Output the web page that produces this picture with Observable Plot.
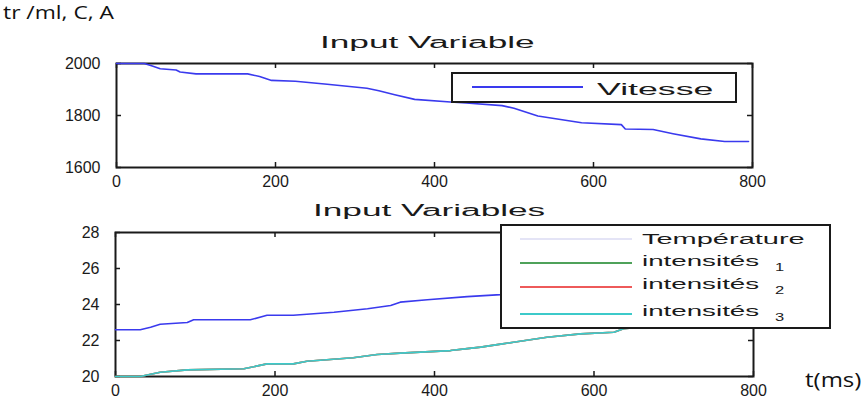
<!DOCTYPE html>
<html><head><meta charset="utf-8">
<script src="https://cdn.jsdelivr.net/npm/d3@7"></script>
<script src="https://cdn.jsdelivr.net/npm/@observablehq/plot@0.6"></script>
<style>
body{margin:0;background:#fff}
#wrap{position:relative;width:866px;height:411px;overflow:hidden;background:#fff}
#wrap svg{position:absolute;left:0}
.abs{position:absolute;white-space:nowrap;line-height:1}
.mat{font-family:"Liberation Sans",Arial,sans-serif;color:#1a1a1a}
.cal{font-family:"Open Sans",sans-serif;color:#111}
.legend{position:absolute;border:2px solid #1a1a1a;background:#fff;box-sizing:border-box}
.lline{position:absolute;height:2px}
</style></head><body><div id="wrap"></div>
<script>
// ---------- data ----------
const vitesseT = [0,35,45,55,75,80,100,165,180,195,225,265,315,330,350,375,420,440,485,500,530,585,635,640,675,700,735,765,795];
const vitesseV = [2000,2000,1990,1980,1975,1967,1960,1960,1950,1935,1932,1920,1905,1895,1880,1862,1852,1848,1838,1828,1798,1772,1765,1748,1746,1730,1710,1700,1700];

const tempT = [0,31,44,56,90,98,169,190,223,274,316,345,357,391,441,483,520,600,700,800];
const tempV = [22.6,22.6,22.74,22.9,23.0,23.15,23.15,23.4,23.4,23.57,23.76,23.94,24.13,24.26,24.44,24.55,24.7,25.0,25.4,25.7];

const intensT = [0,31,56,90,161,190,223,240,298,328,357,420,441,458,483,499,541,583,625,637,700,800];
const intens1 = [20.0,20.0,20.24,20.37,20.43,20.7,20.7,20.85,21.04,21.22,21.3,21.44,21.55,21.63,21.8,21.9,22.18,22.37,22.46,22.65,22.9,23.2];
const intens2 = [20.0,20.0,20.24,20.37,20.43,20.7,20.7,20.85,21.04,21.22,21.3,21.44,21.55,21.63,21.8,21.9,22.18,22.37,22.46,22.65,22.9,23.2];
const intens3 = [20.0,20.0,20.24,20.37,20.43,20.7,20.7,20.85,21.04,21.22,21.3,21.44,21.55,21.63,21.8,21.9,22.18,22.37,22.46,22.65,22.9,23.2];

const xTicks = [0,200,400,600,800];
const yTicks1 = [1600,1800,2000];
const yTicks2 = [20,22,24,26,28];

const title1 = "Input Variable";
const title2 = "Input Variables";
const legend1Labels = ["Vitesse"];
const legend2Labels = ["Température","intensités","intensités","intensités"];
const legend2Subs = ["","1","2","3"];
const yLabelText = "tr /ml, C, A";
const xLabelText = "t(ms)";

const BLUE = "#3a3aee", GREEN = "#4fa25a", RED = "#ee5a5a", CYAN = "#3ccaca", PALE = "#e4e4f6";
const INK = "#1a1a1a";

// ---------- build ----------
const wrap = document.getElementById("wrap");
const W = 866;
const rows1 = vitesseT.map((t,i)=>({t, v: vitesseV[i]}));
const rowsTemp = tempT.map((t,i)=>({t, v: tempV[i]}));
const rowsI1 = intensT.map((t,i)=>({t, v: intens1[i]}));
const rowsI2 = intensT.map((t,i)=>({t, v: intens2[i]}));
const rowsI3 = intensT.map((t,i)=>({t, v: intens3[i]}));

function frameMarks(innerW, innerH, yTicks) {
  return [
    Plot.frame({stroke: INK, strokeWidth: 2}),
    Plot.tickX(xTicks, {x: d=>d, insetTop: innerH-5, stroke: INK, strokeWidth: 1.5}),
    Plot.tickX(xTicks, {x: d=>d, insetBottom: innerH-5, stroke: INK, strokeWidth: 1.5}),
    Plot.tickY(yTicks, {y: d=>d, insetRight: innerW-5, stroke: INK, strokeWidth: 1.5}),
    Plot.tickY(yTicks, {y: d=>d, insetLeft: innerW-5, stroke: INK, strokeWidth: 1.5}),
    Plot.axisX({ticks: xTicks, tickSize: 0, tickPadding: 8, tickFormat: d=>String(d), label: null}),
    Plot.axisY({ticks: yTicks, tickSize: 0, tickPadding: 16, tickFormat: d=>String(d), label: null})
  ];
}

const style = {fontFamily: '"Liberation Sans", Arial, sans-serif', fontSize: "16px", color: INK, background: "transparent", overflow: "visible"};

// top panel
const H1 = 195, mt1 = 63, mb1 = 28, ml1 = 116, mr1 = 114;
const p1 = Plot.plot({
  width: W, height: H1, marginTop: mt1, marginBottom: mb1, marginLeft: ml1, marginRight: mr1,
  x: {domain: [0,800]}, y: {domain: [1600,2000]}, style,
  marks: [
    ...frameMarks(W-ml1-mr1, H1-mt1-mb1, yTicks1),
    Plot.line(rows1, {x: "t", y: "v", stroke: BLUE, strokeWidth: 1.6})
  ]
});
p1.style.top = "0px";
wrap.appendChild(p1);

// bottom panel
const top2 = 195, H2 = 216, mt2 = 37, mb2 = 35, ml2 = 115, mr2 = 113;
const p2 = Plot.plot({
  width: W, height: H2, marginTop: mt2, marginBottom: mb2, marginLeft: ml2, marginRight: mr2,
  x: {domain: [0,800]}, y: {domain: [20,28]}, style,
  marks: [
    ...frameMarks(W-ml2-mr2, H2-mt2-mb2, yTicks2),
    Plot.line(rowsTemp, {x: "t", y: "v", stroke: BLUE, strokeWidth: 1.6}),
    Plot.line(rowsI1, {x: "t", y: "v", stroke: GREEN, strokeWidth: 1.6}),
    Plot.line(rowsI2, {x: "t", y: "v", stroke: RED, strokeWidth: 1.6}),
    Plot.line(rowsI3, {x: "t", y: "v", stroke: CYAN, strokeWidth: 1.6})
  ]
});
p2.style.top = top2 + "px";
wrap.appendChild(p2);

// helpers for html text
function addText(txt, cls, fs, left, baseline, scale, parent, ascentFrac) {
  const d = document.createElement("div");
  d.className = "abs " + cls;
  d.textContent = txt;
  d.style.fontSize = fs + "px";
  d.style.left = left + "px";
  d.style.top = (baseline - ascentFrac * fs) + "px";
  d.style.transformOrigin = "0 0";
  d.style.transform = `scaleX(${scale})`;
  (parent || wrap).appendChild(d);
  return d;
}
const LIB = 0.8465, OPEN = 0.888;

// titles
addText(title1, "mat", 16, 320, 49, 2.2, null, LIB);
addText(title2, "mat", 16, 313, 217, 2.2, null, LIB);

// top legend
const lg1 = document.createElement("div");
lg1.className = "legend";
Object.assign(lg1.style, {left: "451px", top: "72px", width: "286px", height: "31px"});
wrap.appendChild(lg1);
const l1 = document.createElement("div");
l1.className = "lline";
Object.assign(l1.style, {left: "19px", top: "12px", width: "111px", background: BLUE});
lg1.appendChild(l1);
addText(legend1Labels[0], "mat", 17, 144, 21, 2.1, lg1, LIB);

// bottom legend
const lg2 = document.createElement("div");
lg2.className = "legend";
Object.assign(lg2.style, {left: "500px", top: "224px", width: "331px", height: "105px"});
wrap.appendChild(lg2);
const lineYs = [12, 36, 60, 87];
const baseYs = [18, 40, 63, 90];
const cols = [PALE, GREEN, RED, CYAN];
legend2Labels.forEach((lab, i) => {
  const ln = document.createElement("div");
  ln.className = "lline";
  Object.assign(ln.style, {left: "18px", top: lineYs[i] + "px", width: "112px", background: cols[i]});
  lg2.appendChild(ln);
  addText(lab, "mat", 14, 140, baseYs[i], i === 0 ? 2.07 : 1.98, lg2, LIB);
  if (legend2Subs[i]) addText(legend2Subs[i], "mat", 11, 273, baseYs[i] + 5, 1.5, lg2, LIB);
});

// axis labels outside (Calibri-like)
addText(yLabelText, "cal", 19, 3, 20, 1.2, null, OPEN);
addText(xLabelText, "cal", 20, 805, 388, 1.2, null, OPEN);
</script></body></html>
